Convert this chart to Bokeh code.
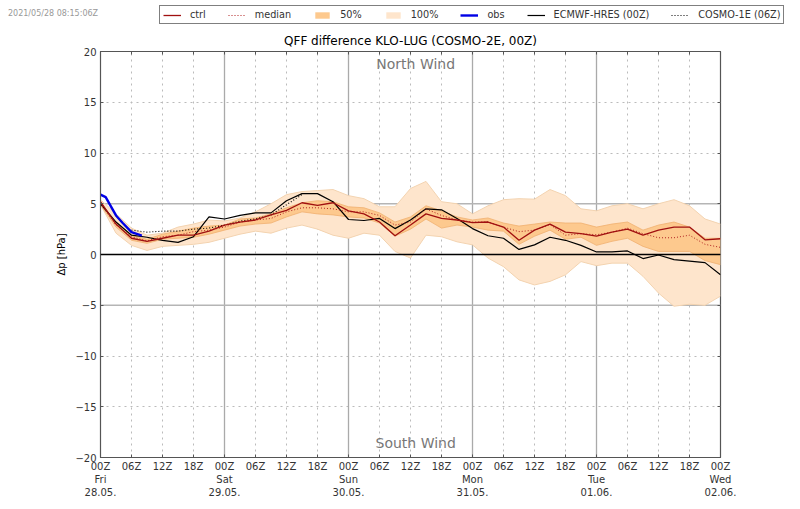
from bokeh.plotting import figure
from bokeh.layouts import column
from bokeh.models import Legend, LegendItem, Label, Span, LinearAxis, FixedTicker, Title, Div
from bokeh.embed import file_html
from bokeh.resources import INLINE

hours = list(range(0, 121, 3))
ctrl = [5.2,3.0,1.6,1.3,1.6,1.9,1.9,2.3,2.9,3.2,3.4,3.9,4.35,5.1,4.85,5.1,4.3,4.0,3.2,1.85,2.9,4.0,3.55,3.4,3.15,3.2,2.7,1.4,2.4,3.0,2.2,2.05,1.8,2.2,2.5,1.9,2.4,2.7,2.7,1.45,1.55]
median = [5.0,2.9,1.75,1.35,1.75,1.9,2.25,2.4,2.7,3.2,3.4,3.55,4.2,4.6,4.6,4.5,4.2,4.2,3.85,2.9,3.2,4.5,3.85,3.4,3.2,3.2,2.7,2.25,2.4,2.95,1.9,2.05,1.95,2.2,2.6,2.05,1.65,1.65,1.9,1.0,0.7]
p50_hi = [5.1,3.2,1.9,1.5,2.0,2.3,2.6,2.8,2.9,3.5,3.6,4.0,4.6,5.1,5.3,5.2,4.7,4.6,4.1,3.2,3.7,4.8,4.3,3.7,3.4,3.6,3.1,2.8,3.0,3.2,3.1,3.1,2.7,3.0,3.2,2.4,2.9,3.2,2.7,1.6,1.6]
p50_lo = [4.9,2.7,1.4,1.1,1.5,1.6,1.7,2.0,2.4,2.8,3.0,3.1,3.7,4.2,4.0,3.9,3.7,3.6,3.1,1.8,2.5,3.5,2.6,2.9,2.7,2.4,2.3,1.0,1.8,2.4,1.5,1.7,0.9,1.3,1.6,0.8,0.3,0.3,0.3,-0.6,-1.0]
p100_hi = [5.4,4.0,2.6,1.9,2.1,2.7,3.0,3.4,3.3,3.6,4.2,5.0,5.9,6.2,6.3,6.4,5.8,5.5,4.7,4.7,6.5,7.2,5.2,5.0,4.0,4.8,5.4,5.5,5.45,6.4,5.8,4.5,4.3,4.8,5.0,4.5,5.0,5.4,4.8,3.5,3.0]
p100_lo = [4.9,2.1,0.9,0.4,0.8,0.9,1.0,1.2,1.6,2.0,2.3,2.1,2.6,2.9,2.5,1.9,1.6,2.1,1.9,0.3,-0.35,1.9,1.75,1.25,0.95,-0.35,-1.2,-2.5,-3.0,-2.65,-2.0,-0.7,-1.1,-0.85,-0.85,-2.15,-3.8,-5.1,-4.9,-5.0,-4.1]
hres = [5.0,3.2,1.9,1.7,1.4,1.2,1.75,3.7,3.5,3.85,4.1,4.1,5.3,6.0,6.0,5.2,3.45,3.35,3.55,2.55,3.4,4.5,4.4,3.55,2.55,1.85,1.6,0.5,0.95,1.7,1.4,0.9,0.25,0.25,0.35,-0.4,-0.05,-0.5,-0.65,-0.8,-2.0]
cosmo_hours = [6,9,12,15,18,21,24,27,30,33,36,39]
cosmo1e = [2.4,2.2,2.3,2.3,2.5,2.6,2.9,3.3,3.5,3.9,4.9,5.9]
obs_hours = [0,1,3,4.3,6,8]
obs = [5.9,5.65,3.85,3.1,2.2,1.85]

xticks = list(range(0, 121, 6))
hour_labels = ["00Z","06Z","12Z","18Z"]
days = ["Fri\n28.05.","Sat\n29.05.","Sun\n30.05.","Mon\n31.05.","Tue\n01.06.","Wed\n02.06."]
yticks = [-20,-15,-10,-5,0,5,10,15,20]
FONT = "DejaVu Sans"
TXT = "#333333"
CTRL_COL, MED_COL = "#a01010", "#b02020"
P50_COL, P100_COL = "#fdc98e", "#fee5cc"
OBS_COL = "#0000e6"

p = figure(width=800, height=509, frame_width=620, frame_height=406,
           x_range=(0,120), y_range=(-20,20), output_backend="svg", toolbar_location=None,
           min_border_left=100, min_border_right=80, min_border_top=51, min_border_bottom=52)
p.frame_align = False
p.background_fill_color = "white"
p.outline_line_color = "#555555"
p.outline_line_width = 1.2
p.title = Title(text="QFF difference KLO-LUG (COSMO-2E, 00Z)", align="center", text_font=FONT,
                text_font_size="12px", text_font_style="normal", text_color="black", standoff=7)

p.xgrid.ticker = FixedTicker(ticks=[h for h in xticks if h % 24])
p.ygrid.ticker = FixedTicker(ticks=[y for y in yticks if abs(y) not in (0,5,20)])
for g in (p.xgrid, p.ygrid):
    g.grid_line_color = "#bbbbbb"
    g.grid_line_dash = [2,4]
    g.grid_line_width = 1

for h in xticks:
    if h % 24 == 0 and 0 < h < 120:
        p.add_layout(Span(location=h, dimension="height", line_color="#aaaaaa", line_width=1.3, level="underlay"))
for y in (-5, 5):
    p.add_layout(Span(location=y, dimension="width", line_color="#b5b5b5", line_width=1.3, level="underlay"))

p.varea(hours, p100_lo, p100_hi, fill_color=P100_COL)
p.line(hours, p100_hi, line_color="#f3d3b0", line_width=1)
p.line(hours, p100_lo, line_color="#f3d3b0", line_width=1)
p.varea(hours, p50_lo, p50_hi, fill_color=P50_COL)
p.line(hours, p50_hi, line_color="#f0b070", line_width=0.8)
p.line(hours, p50_lo, line_color="#f0b070", line_width=0.8)
p.add_layout(Span(location=0, dimension="width", line_color="black", line_width=1.6))
p.line(hours, hres, line_color="black", line_width=1.2)
p.line(cosmo_hours, cosmo1e, line_color="black", line_width=1.1, line_dash=[1,2])
p.line(hours, median, line_color=MED_COL, line_width=1, line_dash=[1,2])
p.line(hours, ctrl, line_color=CTRL_COL, line_width=1.3)
p.line(obs_hours, obs, line_color=OBS_COL, line_width=2.4)

lab = {h: hour_labels[(h//6)%4] + ("\n"+days[h//24] if h%24==0 else "") for h in xticks}
ax = p.xaxis[0]
ax.ticker = FixedTicker(ticks=xticks)
ax.major_label_overrides = lab
ay = p.yaxis[0]
ay.ticker = FixedTicker(ticks=yticks)
ay.major_label_overrides = {y: str(y).replace("-", "\u2212") for y in yticks}
ay.axis_label = "\u0394p [hPa]"
ay.axis_label_text_font_size = "10px"
ay.axis_label_text_font_style = "normal"
ay.axis_label_text_font = FONT
ay.axis_label_text_color = "black"
ay.axis_label_standoff = 5
for a in (ax, ay):
    a.axis_line_color = "#555555"
    a.major_tick_in = 3
    a.major_tick_out = 0
    a.minor_tick_line_color = None
    a.major_tick_line_color = "#555555"
    a.major_label_text_font = FONT
    a.major_label_text_font_size = "10px"
    a.major_label_text_color = TXT
ax.major_label_standoff = 3
ay.major_label_standoff = 4

top = LinearAxis(ticker=FixedTicker(ticks=xticks), major_label_overrides={h: "" for h in xticks},
                 major_tick_in=3, major_tick_out=0, major_tick_line_color="#555555",
                 major_label_standoff=0, minor_tick_line_color=None, axis_line_color=None, major_label_text_font_size="1px")
p.add_layout(top, "above")
right = LinearAxis(ticker=FixedTicker(ticks=yticks), major_label_overrides={y: "" for y in yticks},
                   major_tick_in=3, major_tick_out=0, major_tick_line_color="#555555",
                   minor_tick_line_color=None, axis_line_color=None, major_label_text_font_size="1px")
p.add_layout(right, "right")

p.add_layout(Label(x=61, y=18.72, text="North Wind", text_font=FONT, text_font_size="14px", text_color="#777777",
                   text_align="center", text_baseline="middle"))
p.add_layout(Label(x=61, y=-18.6, text="South Wind", text_font=FONT, text_font_size="14px", text_color="#777777",
                   text_align="center", text_baseline="middle"))

# legend lives in its own small figure, floated over the top margin of the chart;
# its key glyphs carry the real series, with the view range set away from them
lf = figure(width=640, height=20, frame_width=640, frame_height=20, x_range=(1000,1001), y_range=(1000,1001),
            output_backend="svg", toolbar_location=None, x_axis_location=None, y_axis_location=None,
            min_border_left=0, min_border_right=0, min_border_top=0, min_border_bottom=0,
            styles={"position": "absolute", "left": "159px", "top": "5px", "z-index": "5"})
lf.frame_align = False
lf.grid.visible = False
lf.outline_line_color = None
lf.background_fill_color = None
lf.border_fill_color = None
k_ctrl = lf.line(hours, ctrl, line_color=CTRL_COL, line_width=1.3)
k_med = lf.line(hours, median, line_color=MED_COL, line_width=1, line_dash=[1,2])
k_50 = lf.varea(hours, p50_lo, p50_hi, fill_color=P50_COL)
k_100 = lf.varea(hours, p100_lo, p100_hi, fill_color=P100_COL)
k_obs = lf.line(obs_hours, obs, line_color=OBS_COL, line_width=2.4)
k_hres = lf.line(hours, hres, line_color="black", line_width=1.2)
k_cos = lf.line(cosmo_hours, cosmo1e, line_color="black", line_width=1.1, line_dash=[1,2])
legend = Legend(items=[LegendItem(label="ctrl", renderers=[k_ctrl]),
                       LegendItem(label="median", renderers=[k_med]),
                       LegendItem(label="50%", renderers=[k_50]),
                       LegendItem(label="100%", renderers=[k_100]),
                       LegendItem(label="obs", renderers=[k_obs]),
                       LegendItem(label="ECMWF-HRES (00Z)", renderers=[k_hres]),
                       LegendItem(label="COSMO-1E (06Z)", renderers=[k_cos])],
                orientation="horizontal", location="top_left", glyph_width=18, glyph_height=8,
                label_height=8, label_width=0, label_standoff=9, spacing=22, padding=3, margin=0,
                label_text_font=FONT, label_text_font_size="9.7px", label_text_color=TXT,
                border_line_color="black", border_line_width=1, background_fill_alpha=1)
lf.add_layout(legend, "center")

stamp = Div(text="2021/05/28 08:15:06Z", width=110, height=0, margin=0,
            styles={"font-size": "8px", "color": "#999999", "font-family": "DejaVu Sans",
                    "position": "relative", "left": "8px", "top": "8px", "z-index": "5", "white-space": "nowrap"})
page = column(stamp, p, lf, spacing=0)

open("out.html", "w").write(file_html(page, INLINE))
